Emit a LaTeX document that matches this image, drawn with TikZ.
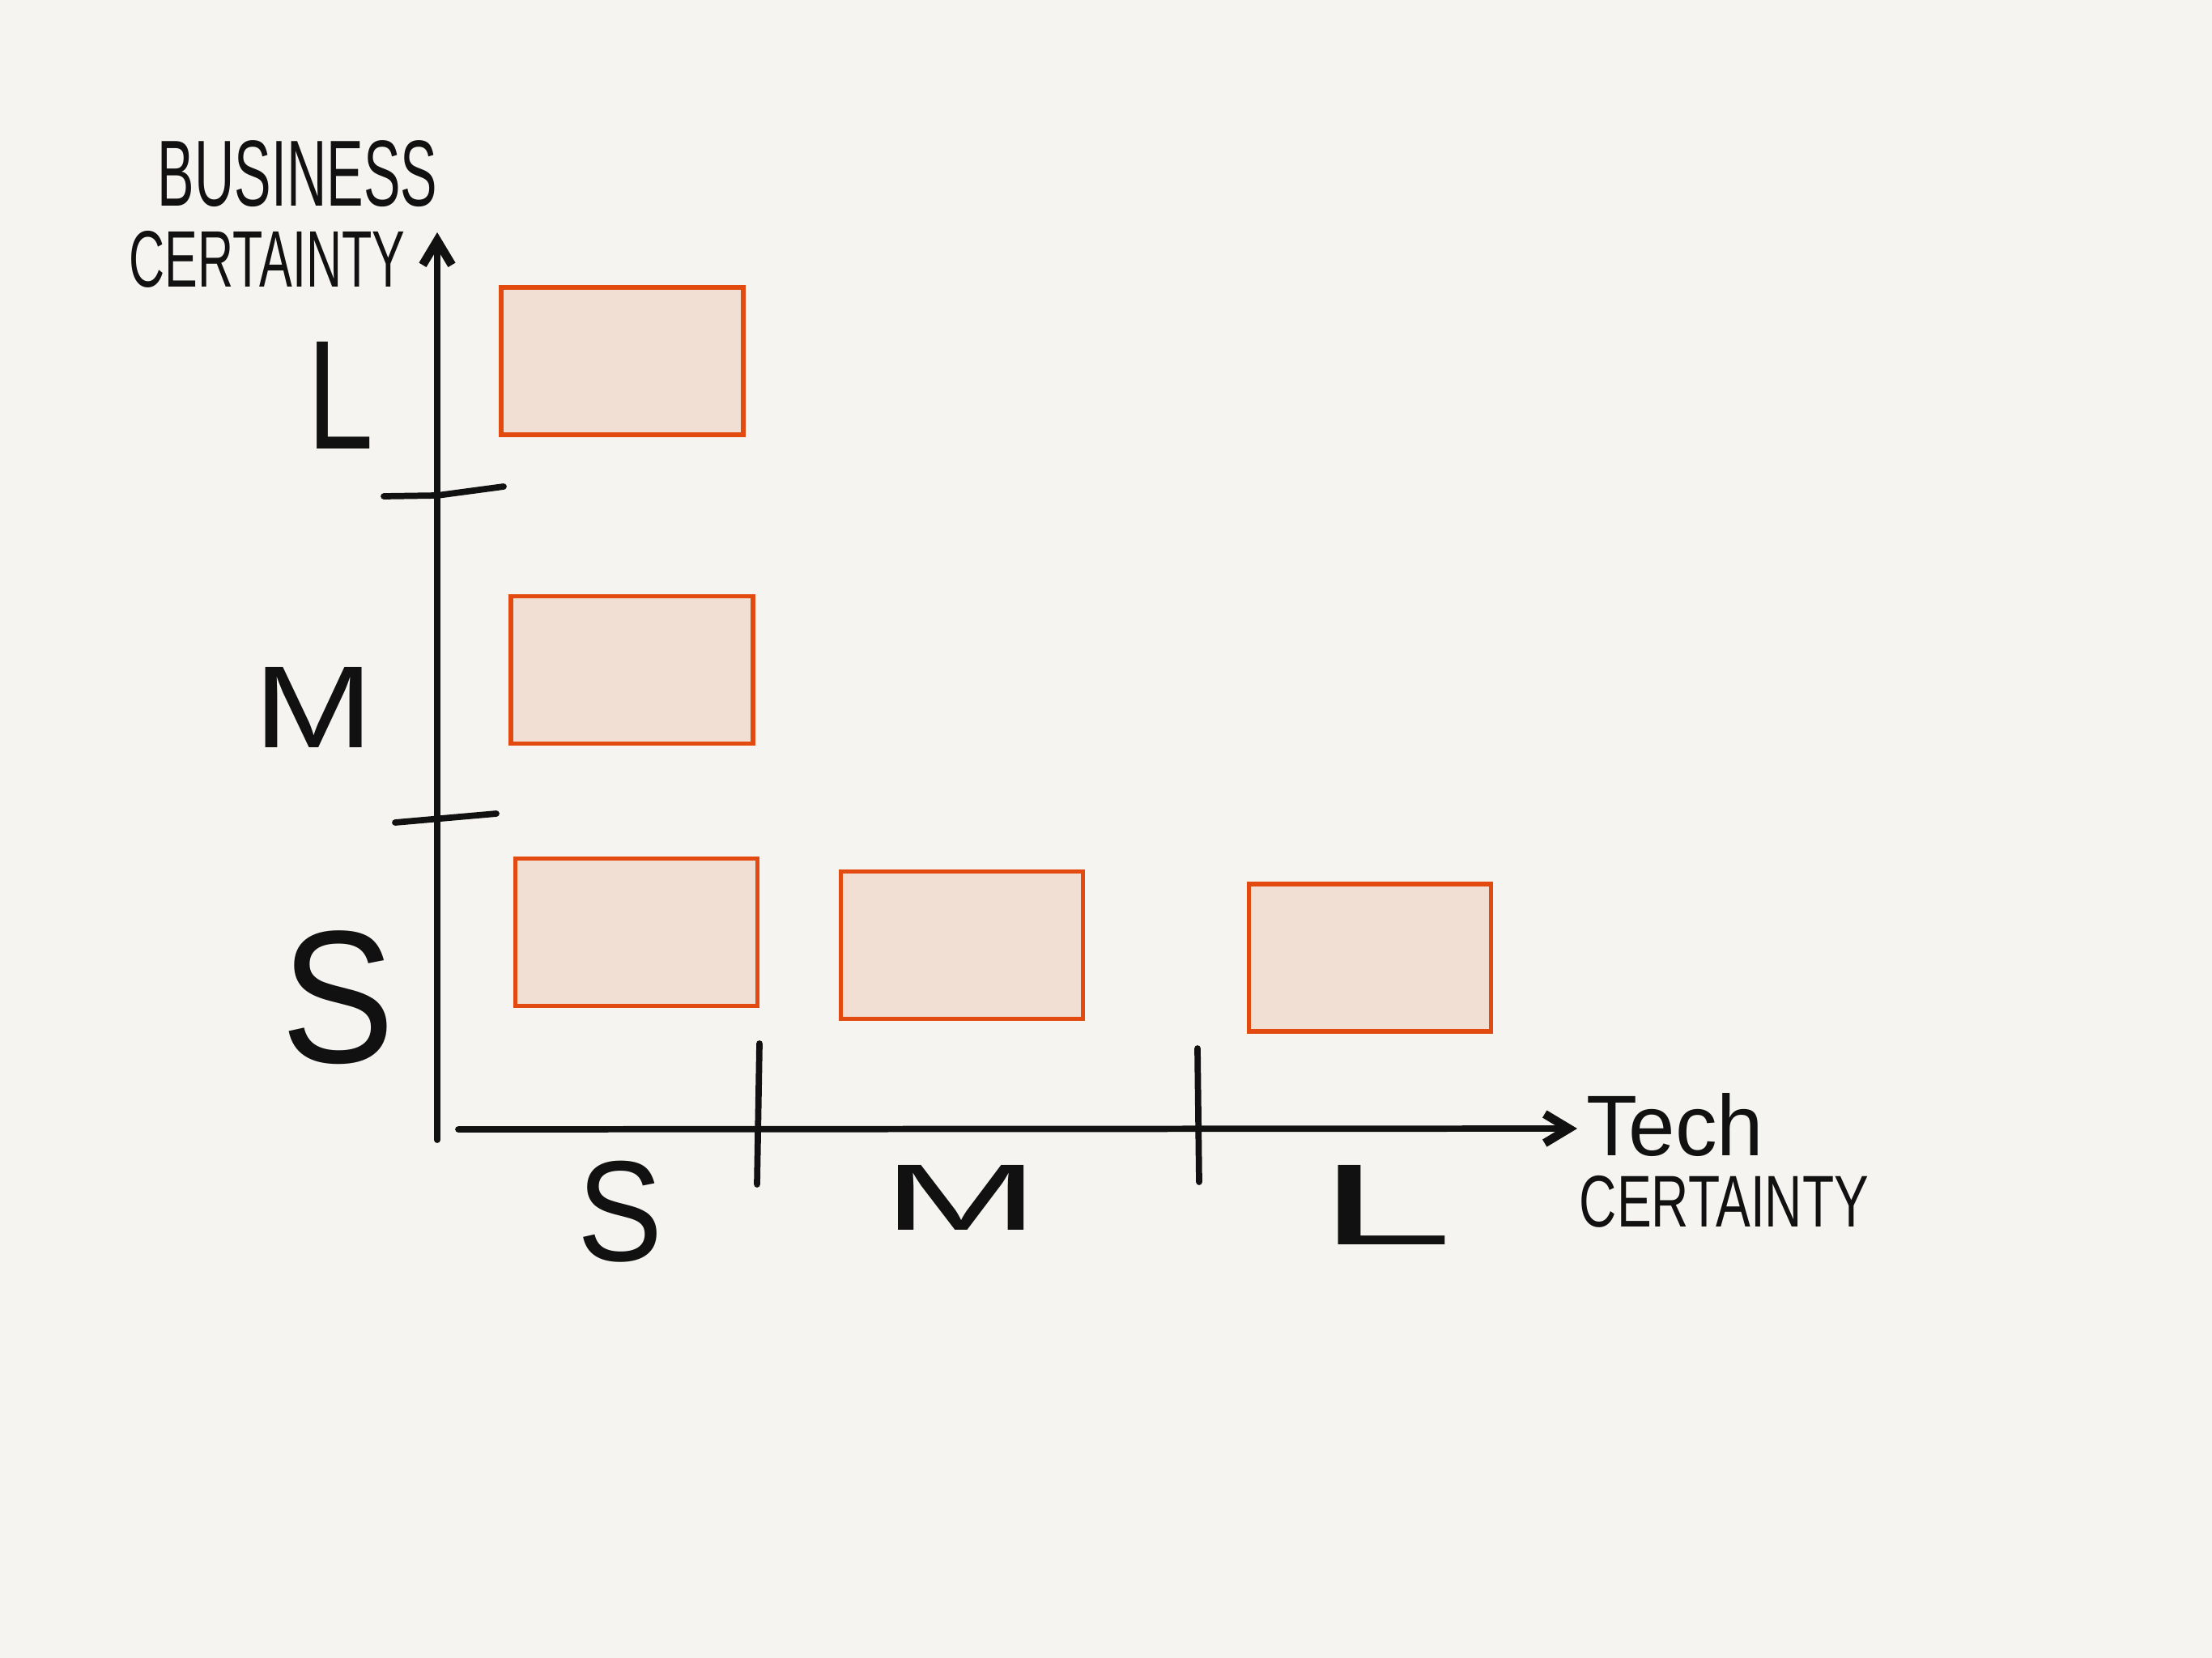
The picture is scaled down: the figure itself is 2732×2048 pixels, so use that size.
\documentclass[tikz,border=0pt]{standalone}
\usepackage{graphicx}
\usepackage{fontspec}
\setmainfont{Liberation Sans}
\usetikzlibrary{arrows.meta}
\definecolor{bg}{HTML}{F5F4F0}
\definecolor{boxfill}{HTML}{F2DFD3}
\definecolor{boxline}{HTML}{E24A0F}
\definecolor{ink}{HTML}{111111}
\tikzset{
  cell/.style={draw=boxline, fill=boxfill, line width=1.5pt, inner sep=0pt,
    minimum width=2.99cm, minimum height=1.82cm},
  axisline/.style={draw=ink, line width=2.2pt, line cap=round},
  tickline/.style={draw=ink, line width=2.2pt, line cap=round},
  lbl/.style={inner sep=0pt, text=ink}
}
\begin{document}
\begin{tikzpicture}[x=0.01cm,y=-0.01cm]
\fill[bg] (0,0) rectangle (2732,2048);
\useasboundingbox (0,0) rectangle (2732,2048);
% axes
\coordinate (ybot) at (540,1408);
\coordinate (ytop) at (540,287);
\coordinate (xleft) at (566,1395);
\coordinate (xright) at (1948,1394);
\draw[axisline, -{Straight Barb[length=0.3cm,width=0.36cm,line width=3pt]}] (ybot) -- (ytop);
\draw[axisline, -{Straight Barb[length=0.3cm,width=0.36cm,line width=3pt]}] (xleft) -- (xright);
% ticks
\coordinate (t1a) at (474,613); \coordinate (t1b) at (622,601);
\coordinate (t2a) at (488,1016); \coordinate (t2b) at (613,1005);
\coordinate (t3a) at (938,1289); \coordinate (t3b) at (935,1463);
\coordinate (t4a) at (1479,1295); \coordinate (t4b) at (1481,1460);
\draw[tickline] (t1a) -- (540,612) -- (t1b);
\draw[tickline] (t2a) -- (t2b);
\draw[tickline] (t3a) -- (t3b);
\draw[tickline] (t4a) -- (t4b);
% boxes
\node[cell] (bL) at (768.5,446) {};
\node[cell] (bM) at (780.5,827.5) {};
\node[cell] (bSS) at (786,1151.5) {};
\node[cell] (bSM) at (1188,1167.5) {};
\node[cell] (bSL) at (1692,1183) {};
% axis titles
\node[lbl] (bus) at (367.5,215) {\resizebox*{3.45cm}{0.82cm}{BUSINESS}};
\node[lbl] (cert1) at (330,320) {\resizebox*{3.4cm}{0.7cm}{CERTAINTY}};
\node[lbl] (tech) at (2069,1389) {\resizebox*{2.18cm}{0.78cm}{Tech}};
\node[lbl] (cert2) at (2129.5,1484) {\resizebox*{3.57cm}{0.64cm}{CERTAINTY}};
% y labels
\node[lbl] (yL) at (421,488) {\resizebox*{0.82cm}{1.32cm}{L}};
\node[lbl] (yM) at (388,873.5) {\resizebox*{1.48cm}{0.99cm}{M}};
\node[lbl] (yS) at (418,1232.5) {\resizebox*{1.4cm}{1.65cm}{S}};
% x labels
\node[lbl] (xS) at (766.5,1496.5) {\resizebox*{1.05cm}{1.25cm}{S}};
\node[lbl] (xM) at (1187.5,1479) {\resizebox*{1.93cm}{0.8cm}{M}};
\node[lbl] (xL) at (1712,1488) {\resizebox*{1.66cm}{0.98cm}{L}};
\end{tikzpicture}
\end{document}
